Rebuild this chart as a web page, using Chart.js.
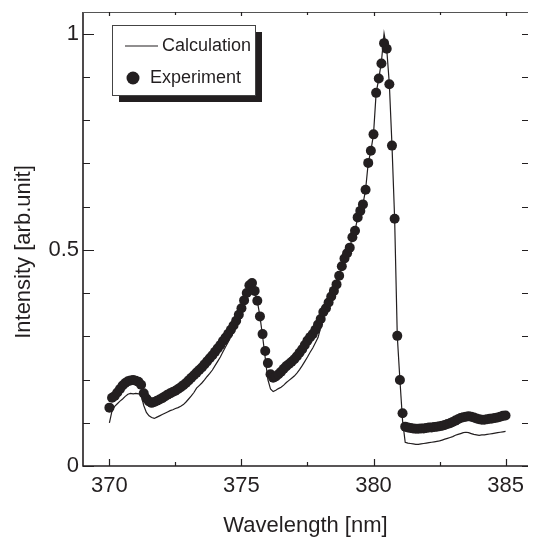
<!DOCTYPE html>
<html lang="en">
<head>
<meta charset="UTF-8">
<title>Intensity vs Wavelength</title>
<style>
  html, body { margin: 0; padding: 0; background: #fff; }
  #wrap { width: 533px; height: 539px; }
</style>
<script src="https://cdn.jsdelivr.net/npm/chart.js"></script>
</head>
<body>
<div id="wrap"><canvas id="chart"></canvas></div>
<script>
// wavelength grid [nm]
const wavelength = [
  370.0, 370.1, 370.2, 370.3, 370.4, 370.5, 370.6, 370.7, 370.8, 370.9,
  371.0, 371.1, 371.2, 371.3, 371.4, 371.5, 371.6, 371.7, 371.8, 371.9,
  372.0, 372.1, 372.2, 372.3, 372.4, 372.5, 372.6, 372.7, 372.8, 372.9,
  373.0, 373.1, 373.2, 373.3, 373.4, 373.5, 373.6, 373.7, 373.8, 373.9,
  374.0, 374.1, 374.2, 374.3, 374.4, 374.5, 374.6, 374.7, 374.8, 374.9,
  375.0, 375.1, 375.2, 375.3, 375.4, 375.5, 375.6, 375.7, 375.8, 375.9,
  376.0, 376.1, 376.2, 376.3, 376.4, 376.5, 376.6, 376.7, 376.8, 376.9,
  377.0, 377.1, 377.2, 377.3, 377.4, 377.5, 377.6, 377.7, 377.8, 377.9,
  378.0, 378.1, 378.2, 378.3, 378.4, 378.5, 378.6, 378.7, 378.8, 378.9,
  379.0, 379.1, 379.2, 379.3, 379.4, 379.5, 379.6, 379.7, 379.8, 379.9,
  380.0, 380.1, 380.2, 380.3, 380.4, 380.5, 380.6, 380.7, 380.8, 380.9,
  381.0, 381.1, 381.2, 381.3, 381.4, 381.5, 381.6, 381.7, 381.8, 381.9,
  382.0, 382.1, 382.2, 382.3, 382.4, 382.5, 382.6, 382.7, 382.8, 382.9,
  383.0, 383.1, 383.2, 383.3, 383.4, 383.5, 383.6, 383.7, 383.8, 383.9,
  384.0, 384.1, 384.2, 384.3, 384.4, 384.5, 384.6, 384.7, 384.8, 384.9,
  385.0
];

// measured intensity (dots)
const experiment = [
  0.135, 0.158, 0.162, 0.170, 0.178, 0.186, 0.192, 0.196, 0.198, 0.199,
  0.197, 0.195, 0.188, 0.168, 0.156, 0.149, 0.146, 0.148, 0.151, 0.154,
  0.157, 0.161, 0.165, 0.168, 0.171, 0.174, 0.178, 0.182, 0.187, 0.192,
  0.198, 0.204, 0.210, 0.216, 0.222, 0.228, 0.235, 0.242, 0.249, 0.256,
  0.264, 0.272, 0.280, 0.289, 0.297, 0.306, 0.315, 0.325, 0.336, 0.350,
  0.365, 0.383, 0.400, 0.418, 0.423, 0.405, 0.382, 0.346, 0.305, 0.266,
  0.238, 0.212, 0.204, 0.207, 0.212, 0.218, 0.225, 0.231, 0.236, 0.241,
  0.247, 0.254, 0.262, 0.270, 0.280, 0.290, 0.298, 0.305, 0.315, 0.327,
  0.340, 0.356, 0.365, 0.378, 0.392, 0.405, 0.420, 0.440, 0.462, 0.480,
  0.492, 0.505, 0.529, 0.544, 0.575, 0.590, 0.605, 0.639, 0.701, 0.729,
  0.767, 0.863, 0.896, 0.931, 0.978, 0.965, 0.883, 0.741, 0.572, 0.301,
  0.199, 0.122, 0.091, 0.089, 0.088, 0.087, 0.086, 0.086, 0.087, 0.087,
  0.088, 0.089, 0.089, 0.090, 0.091, 0.092, 0.093, 0.095, 0.097, 0.099,
  0.102, 0.105, 0.108, 0.111, 0.113, 0.114, 0.115, 0.114, 0.112, 0.110,
  0.108, 0.107, 0.107, 0.108, 0.109, 0.110, 0.111, 0.112, 0.114, 0.116,
  0.117
];

// calculated intensity (line)
const calculation = [
  0.100, 0.128, 0.138, 0.144, 0.150, 0.155, 0.161, 0.166, 0.168, 0.167,
  0.168, 0.167, 0.165, 0.140, 0.124, 0.116, 0.112, 0.110, 0.113, 0.116,
  0.119, 0.122, 0.125, 0.128, 0.130, 0.133, 0.135, 0.138, 0.142, 0.148,
  0.155, 0.162, 0.170, 0.180, 0.186, 0.192, 0.199, 0.207, 0.214, 0.222,
  0.232, 0.242, 0.252, 0.264, 0.276, 0.287, 0.300, 0.313, 0.326, 0.342,
  0.360, 0.378, 0.396, 0.412, 0.418, 0.405, 0.382, 0.346, 0.300, 0.250,
  0.200, 0.178, 0.172, 0.175, 0.179, 0.182, 0.187, 0.193, 0.198, 0.203,
  0.208, 0.215, 0.223, 0.232, 0.242, 0.252, 0.263, 0.273, 0.285, 0.297,
  0.320, 0.348, 0.362, 0.376, 0.390, 0.404, 0.420, 0.440, 0.462, 0.480,
  0.492, 0.505, 0.529, 0.544, 0.575, 0.590, 0.605, 0.639, 0.701, 0.729,
  0.767, 0.863, 0.896, 0.935, 1.000, 0.965, 0.883, 0.741, 0.572, 0.301,
  0.199, 0.105, 0.055, 0.053, 0.052, 0.051, 0.050, 0.050, 0.051, 0.052,
  0.053, 0.054, 0.055, 0.056, 0.057, 0.058, 0.060, 0.062, 0.064, 0.066,
  0.068, 0.071, 0.073, 0.075, 0.077, 0.078, 0.077, 0.075, 0.073, 0.072,
  0.071, 0.072, 0.072, 0.073, 0.074, 0.075, 0.076, 0.077, 0.078, 0.079,
  0.080
];

const xTicks = [370, 375, 380, 385];
const xMinorTicks = [372.5, 377.5, 382.5];
const yTicks = [0, 0.5, 1];
const yMinorTicks = [0.1, 0.2, 0.3, 0.4, 0.6, 0.7, 0.8, 0.9];

const ink = '#231f20';
const fontFamily = '"Liberation Sans", Arial, Helvetica, sans-serif';

// frame, inward ticks, y title and the boxed legend with its drop shadow
const framePlugin = {
  id: 'frame',
  afterDraw(chart) {
    const { ctx, chartArea: a, scales: { x, y } } = chart;
    ctx.save();
    ctx.strokeStyle = ink;
    ctx.lineWidth = 1.6;
    ctx.beginPath();
    ctx.moveTo(a.left, a.top);
    ctx.lineTo(a.left, a.bottom);
    ctx.lineTo(a.right, a.bottom);
    ctx.stroke();

    ctx.lineWidth = 1;
    ctx.strokeStyle = '#555';
    ctx.beginPath();
    ctx.moveTo(a.left, a.top + 0.5);
    ctx.lineTo(a.right, a.top + 0.5);
    ctx.stroke();

    ctx.strokeStyle = ink;
    ctx.lineWidth = 1.2;
    ctx.beginPath();
    xTicks.forEach(v => {
      const px = Math.round(x.getPixelForValue(v)) + 0.5;
      ctx.moveTo(px, a.bottom); ctx.lineTo(px, a.bottom - 7);
      ctx.moveTo(px, a.top); ctx.lineTo(px, a.top + 4);
    });
    xMinorTicks.forEach(v => {
      const px = Math.round(x.getPixelForValue(v)) + 0.5;
      ctx.moveTo(px, a.bottom); ctx.lineTo(px, a.bottom - 4);
      ctx.moveTo(px, a.top); ctx.lineTo(px, a.top + 3);
    });
    yTicks.forEach(v => {
      const py = Math.round(y.getPixelForValue(v)) + 0.5;
      ctx.moveTo(a.left, py); ctx.lineTo(a.left + 11, py);
      ctx.moveTo(a.right, py); ctx.lineTo(a.right - 6, py);
    });
    yMinorTicks.forEach(v => {
      const py = Math.round(y.getPixelForValue(v)) + 0.5;
      ctx.moveTo(a.left, py); ctx.lineTo(a.left + 7, py);
      ctx.moveTo(a.right, py); ctx.lineTo(a.right - 6, py);
    });
    ctx.stroke();

    // y axis title
    ctx.fillStyle = ink;
    ctx.font = '22px ' + fontFamily;
    ctx.textAlign = 'center';
    ctx.textBaseline = 'middle';
    ctx.save();
    ctx.translate(24, 252);
    ctx.rotate(-Math.PI / 2);
    ctx.fillText('Intensity [arb.unit]', 0, 0);
    ctx.restore();

    // legend
    const lx = 112, ly = 25, lw = 143, lh = 70;
    ctx.fillStyle = ink;
    ctx.fillRect(lx + 7, ly + 7, lw, lh);
    ctx.fillStyle = '#fff';
    ctx.fillRect(lx, ly, lw, lh);
    ctx.strokeStyle = '#444';
    ctx.lineWidth = 1;
    ctx.strokeRect(lx + 0.5, ly + 0.5, lw, lh);

    const ds = chart.data.datasets;
    ctx.font = '18px ' + fontFamily;
    ctx.textAlign = 'left';
    ctx.fillStyle = ink;
    ctx.strokeStyle = ink;
    ctx.lineWidth = 1.2;
    ctx.beginPath();
    ctx.moveTo(lx + 13, ly + 21); ctx.lineTo(lx + 46, ly + 21);
    ctx.stroke();
    ctx.fillText(ds[0].label, lx + 50, ly + 21);
    ctx.beginPath();
    ctx.arc(lx + 21, ly + 53, 6.5, 0, Math.PI * 2);
    ctx.fill();
    ctx.fillText(ds[1].label, lx + 38, ly + 53);
    ctx.restore();
  }
};

new Chart(document.getElementById('chart'), {
  type: 'scatter',
  data: {
    datasets: [
      {
        label: 'Calculation',
        data: wavelength.map((w, i) => ({ x: w, y: calculation[i] })),
        showLine: true,
        borderColor: ink,
        borderWidth: 1.2,
        pointRadius: 0,
        tension: 0,
        order: 1
      },
      {
        label: 'Experiment',
        data: wavelength.map((w, i) => ({ x: w, y: experiment[i] })),
        showLine: false,
        pointRadius: 5,
        pointBackgroundColor: ink,
        pointBorderWidth: 0,
        order: 2
      }
    ]
  },
  options: {
    responsive: true,
    maintainAspectRatio: false,
    animation: false,
    layout: { padding: { top: 12, right: 0, left: 0, bottom: 0 } },
    plugins: { legend: { display: false }, tooltip: { enabled: false } },
    scales: {
      x: {
        type: 'linear',
        min: 369,
        max: 385.85,
        afterBuildTicks: s => { s.ticks = xTicks.map(v => ({ value: v })); },
        afterFit: s => { s.height = 73; s.paddingLeft = 0; s.paddingRight = 0; },
        grid: { display: false, drawTicks: false },
        border: { display: false },
        ticks: {
          color: ink,
          padding: 7,
          maxRotation: 0,
          font: { family: fontFamily, size: 22 },
          callback: v => String(v)
        },
        title: {
          display: true,
          text: 'Wavelength [nm]',
          color: ink,
          font: { family: fontFamily, size: 22 },
          padding: { top: 0, bottom: 0 }
        }
      },
      y: {
        type: 'linear',
        min: 0,
        max: 1.05,
        afterBuildTicks: s => { s.ticks = yTicks.map(v => ({ value: v })); },
        afterFit: s => { s.width = 83; s.paddingTop = 0; s.paddingBottom = 0; },
        grid: { display: false, drawTicks: false },
        border: { display: false },
        ticks: {
          color: ink,
          padding: 4,
          font: { family: fontFamily, size: 22 },
          callback: v => String(v)
        }
      }
    }
  },
  plugins: [framePlugin]
});
</script>
</body>
</html>
